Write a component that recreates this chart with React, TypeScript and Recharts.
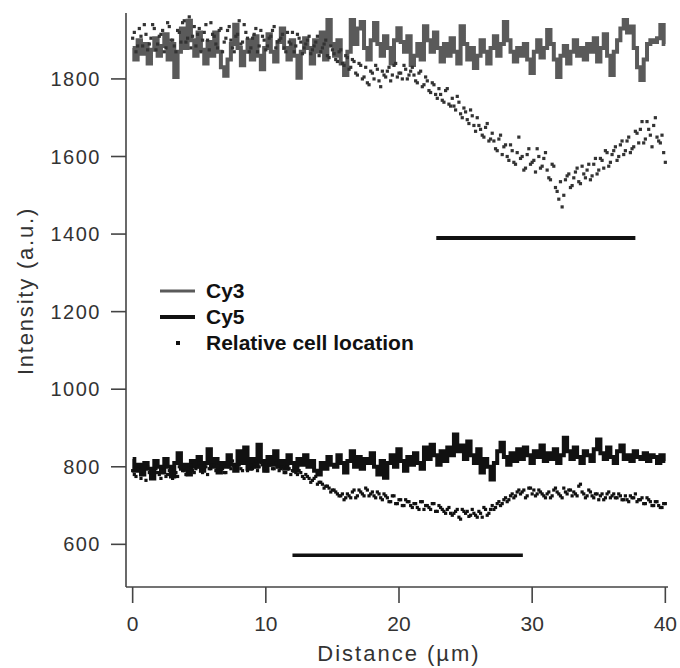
import React, { useLayoutEffect } from 'react';
import { ComposedChart, Line, Scatter, XAxis, YAxis, Legend } from 'recharts';

const FONT = "'Liberation Sans', Arial, Helvetica, sans-serif";
const STEP = 0.25; // sampling interval (µm)

const xTicks = [0, 10, 20, 30, 40];
const yTicks = [600, 800, 1000, 1200, 1400, 1600, 1800];

// Cy3 intensity profile (grey trace)
const cy3Trace = [
  1880, 1850, 1900, 1865, 1890,
  1840, 1875, 1905, 1860, 1885, 1915, 1850, 1890, 1805, 1870, 1930, 1880,
  1950, 1900, 1860, 1920, 1875, 1840, 1895, 1860, 1920, 1870, 1830, 1808,
  1850, 1890, 1940, 1880, 1835, 1870, 1900, 1850, 1910, 1860, 1825, 1880,
  1915, 1870, 1845, 1895, 1930, 1880, 1850, 1900, 1860, 1803, 1870, 1905,
  1880, 1840, 1900, 1870, 1920, 1850, 1952, 1890, 1860, 1900, 1840, 1810,
  1870, 1952, 1890, 1930, 1947, 1880, 1850, 1900, 1944, 1890, 1860, 1910,
  1880, 1840, 1900, 1931, 1895, 1870, 1910, 1836, 1860, 1890, 1850, 1936,
  1900, 1870, 1920, 1880, 1845, 1890, 1860, 1905, 1870, 1840, 1936, 1890,
  1850, 1880, 1828, 1860, 1900, 1870, 1840, 1880, 1910, 1860, 1890, 1947,
  1900, 1870, 1845, 1880, 1860, 1890, 1850, 1815, 1870, 1900, 1855, 1880,
  1926, 1890, 1850, 1805, 1860, 1885, 1840, 1870, 1900, 1860, 1880, 1850,
  1890, 1870, 1905, 1845, 1880, 1915, 1860, 1810, 1870, 1900, 1930, 1952,
  1920, 1935, 1880, 1830, 1797, 1850, 1890, 1900, 1895, 1905, 1939, 1890,
];

// Cy5 intensity profile (black trace)
const cy5Trace = [
  820, 790, 805, 780, 810,
  795, 770, 815, 800, 785, 820, 800, 775, 810, 835, 795, 805,
  780, 815, 800, 825, 790, 810, 845, 800, 820, 785, 810, 800,
  830, 805, 790, 840, 810, 850, 795, 820, 800, 857, 815, 790,
  825, 805, 840, 800, 815, 795, 830, 810, 790, 820, 805, 830,
  800, 815, 790, 780, 810, 795, 825, 805, 800, 830, 810, 785,
  815, 840, 800, 825, 795, 820, 810, 835, 800, 780, 815, 772,
  810, 830, 800, 845, 815, 790, 825, 805, 835, 810, 795, 850,
  820, 857, 830, 805, 840, 815, 850, 830, 883, 840, 855, 820,
  865, 830, 810, 845, 785, 820, 800, 767, 810, 840, 862, 825,
  805, 835, 815, 845, 820, 850, 830, 810, 840, 825, 855, 815,
  835, 820, 845, 810, 830, 875, 840, 820, 850, 825, 810, 840,
  830, 815, 845, 870, 835, 820, 850, 825, 810, 840, 855, 820,
  830, 815, 840, 825, 820, 835, 815, 830, 825, 810, 830, 815,
];

// Relative cell location, upper (Cy3 channel), samples at 0, 0.25, 0.5 ...
const cy3Cells = [
  1905, 1870, 1930, 1885, 1915,
  1890, 1940, 1875, 1910, 1925, 1880, 1935, 1900, 1870, 1920, 1945, 1895,
  1960, 1910, 1885, 1930, 1900, 1940, 1875, 1915, 1890, 1925, 1870, 1905,
  1935, 1880, 1910, 1950, 1895, 1920, 1870, 1905, 1930, 1885, 1910, 1875,
  1905, 1925, 1880, 1900, 1915, 1870, 1895, 1920, 1885, 1905, 1865, 1890,
  1910, 1875, 1895, 1860, 1880, 1900, 1855, 1875, 1850, 1870, 1840, 1860,
  1825, 1850, 1815, 1840, 1800, 1830, 1785, 1815, 1835, 1795, 1820, 1805,
  1830, 1810, 1840, 1815, 1800, 1825, 1810, 1830, 1795, 1815, 1780, 1805,
  1770, 1790, 1760, 1775, 1745, 1770, 1735, 1750, 1720, 1740, 1700, 1715,
  1685, 1705, 1665, 1680, 1655, 1675, 1640, 1660, 1620, 1645, 1605, 1630,
  1590, 1615, 1580, 1650, 1600, 1570, 1620, 1585, 1560, 1600, 1575, 1610,
  1545, 1580, 1520, 1490, 1470, 1540, 1555, 1525, 1560, 1535, 1575, 1545,
  1580, 1550, 1595, 1565, 1590, 1615, 1575, 1605, 1625, 1600, 1640, 1615,
  1650, 1620, 1665, 1635, 1690, 1645, 1670, 1625, 1700, 1640, 1655, 1585,
];

// Relative cell location, upper, interleaved samples at 0.125, 0.375 ...
const cy3CellsMid = [
  1920, 1885, 1910, 1940, 1875, 1905, 1930, 1890, 1915, 1870, 1945, 1900,
  1885, 1925, 1895, 1950, 1905, 1880, 1935, 1915, 1870, 1920, 1900, 1945,
  1910, 1880, 1930, 1895, 1925, 1900, 1870, 1915, 1890, 1940, 1905, 1880,
  1915, 1870, 1925, 1900, 1885, 1910, 1935, 1895, 1905, 1880, 1920, 1890,
  1870, 1915, 1895, 1880, 1900, 1865, 1885, 1910, 1870, 1890, 1860, 1885,
  1865, 1845, 1875, 1835, 1855, 1830, 1845, 1810, 1835, 1805, 1790, 1820,
  1800, 1825, 1780, 1810, 1820, 1795, 1835, 1805, 1815, 1835, 1800, 1820,
  1810, 1790, 1820, 1785, 1795, 1765, 1785, 1750, 1760, 1740, 1775, 1730,
  1730, 1755, 1710, 1725, 1695, 1720, 1680, 1700, 1670, 1650, 1685, 1645,
  1640, 1615, 1655, 1625, 1600, 1630, 1585, 1610, 1595, 1565, 1605, 1580,
  1590, 1620, 1570, 1595, 1565, 1540, 1575, 1510, 1535, 1500, 1550, 1520,
  1545, 1570, 1530, 1555, 1565, 1540, 1580, 1555, 1595, 1570, 1610, 1585,
  1615, 1590, 1630, 1605, 1640, 1610, 1625, 1660, 1670, 1635, 1690, 1655,
  1680, 1650, 1635, 1610,
];

// Relative cell location, lower (Cy5 channel), samples at 0, 0.25, 0.5 ...
const cy5Cells = [
  790, 775, 800, 780, 765,
  785, 770, 795, 780, 800, 775, 790, 770, 785, 800, 790, 780,
  805, 790, 795, 810, 785, 800, 795, 805, 790, 810, 795, 785,
  800, 815, 795, 805, 790, 810, 800, 795, 815, 800, 805, 790,
  805, 795, 810, 790, 800, 785, 795, 790, 785, 790, 775, 780,
  770, 765, 775, 760, 755, 750, 745, 740, 735, 725, 730, 720,
  725, 735, 720, 740, 730, 745, 725, 735, 720, 730, 715, 725,
  710, 725, 705, 715, 700, 715, 710, 695, 705, 690, 710, 700,
  695, 705, 685, 700, 690, 680, 695, 675, 685, 670, 690, 680,
  672, 690, 675, 685, 670, 690, 680, 700, 695, 710, 705, 720,
  715, 730, 725, 740, 735, 720, 745, 730, 725, 740, 730, 720,
  735, 725, 745, 730, 720, 735, 740, 725, 730, 750, 735, 720,
  740, 725, 730, 715, 730, 720, 735, 725, 720, 730, 715, 725,
  710, 720, 730, 715, 720, 705, 715, 700, 710, 700, 695, 705,
];

// Relative cell location, lower, interleaved samples at 0.125, 0.375 ...
const cy5CellsMid = [
  780, 795, 770, 785, 800, 775, 790, 785, 770, 790, 780, 795,
  785, 775, 800, 790, 795, 805, 785, 800, 790, 805, 780, 795,
  805, 790, 800, 785, 810, 795, 805, 800, 795, 810, 790, 805,
  800, 790, 810, 795, 790, 805, 795, 800, 795, 785, 800, 780,
  790, 780, 785, 770, 775, 760, 770, 755, 760, 745, 750, 735,
  740, 730, 725, 715, 730, 720, 740, 725, 735, 725, 740, 730,
  725, 735, 720, 730, 720, 710, 725, 705, 715, 700, 710, 700,
  705, 695, 710, 690, 700, 690, 705, 685, 695, 685, 690, 680,
  680, 690, 665, 685, 685, 675, 680, 670, 680, 695, 675, 690,
  690, 705, 700, 715, 710, 725, 720, 735, 730, 740, 725, 745,
  740, 730, 735, 725, 730, 720, 740, 735, 725, 745, 730, 740,
  735, 725, 755, 730, 725, 735, 720, 730, 725, 715, 730, 720,
  730, 720, 725, 715, 715, 725, 720, 710, 715, 705, 720, 710,
  700, 710, 695, 705,
];

// Horizontal marker bars (start, end in µm) and their levels
const cy3BarX = [22.8, 37.75];
const cy3BarLevel = 1390;
const cy5BarX = [12, 29.3];
const cy5BarLevel = 572;

const toPoints = (vals: number[], offset = 0) => vals.map((y, i) => ({ x: (i + offset) * STEP, y }));
const toBar = (xs: number[], level: number) => xs.map((x) => ({ x, y: level }));

const cy3Data = toPoints(cy3Trace);
const cy5Data = toPoints(cy5Trace);
const cy3CellData = [...toPoints(cy3Cells), ...toPoints(cy3CellsMid, 0.5)];
const cy5CellData = [...toPoints(cy5Cells), ...toPoints(cy5CellsMid, 0.5)];
const cy3Bar = toBar(cy3BarX, cy3BarLevel);
const cy5Bar = toBar(cy5BarX, cy5BarLevel);

const XTick = (props: any) => {
  const { x, y, payload } = props;
  return (
    <text x={x} y={y} dy={15} textAnchor="middle" fontSize={21} fill="#333" fontFamily={FONT}>
      {payload.value}
    </text>
  );
};

const YTick = (props: any) => {
  const { x, y, payload } = props;
  return (
    <text x={x} y={y} textAnchor="end" dominantBaseline="central" fontSize={20}
      letterSpacing={1.5} fill="#333" fontFamily={FONT}>
      {payload.value}
    </text>
  );
};

const Dot = (color: string) => (props: any) => {
  const { cx, cy } = props;
  if (cx == null || cy == null) return null;
  return <rect x={cx - 1.6} y={cy - 1.6} width={3.2} height={3.2} fill={color} />;
};

const legendItems = [
  { label: 'Cy3', kind: 'line', color: '#5a5a5a', width: 3 },
  { label: 'Cy5', kind: 'line', color: '#111', width: 4 },
  { label: 'Relative cell location', kind: 'dot', color: '#111', width: 4 },
];

const LegendContent = () => (
  <div style={{ fontFamily: FONT, fontWeight: 'bold', fontSize: 21, color: '#111' }}>
    {legendItems.map((it) => (
      <div key={it.label} style={{ display: 'flex', alignItems: 'center', height: 26 }}>
        <svg width={46} height={26}>
          {it.kind === 'line' ? (
            <line x1={0} x2={35} y1={13} y2={13} stroke={it.color} strokeWidth={it.width} />
          ) : (
            <rect x={16} y={11} width={4} height={4} fill={it.color} />
          )}
        </svg>
        <span style={{ lineHeight: '26px' }}>{it.label}</span>
      </div>
    ))}
  </div>
);

export default function App() {
  useLayoutEffect(() => {
    document.body.style.margin = '0';
  }, []);
  return (
    <div style={{ width: 680, height: 668, padding: '8px 0 0 8px', boxSizing: 'border-box' }}>
      <ComposedChart width={672} height={660} margin={{ top: 5, right: 12, left: 0, bottom: 0 }}>
        <XAxis
          type="number"
          dataKey="x"
          domain={[-0.5, 40.2]}
          ticks={xTicks}
          allowDataOverflow
          tickSize={16}
          tickMargin={13}
          height={81}
          stroke="#444"
          strokeWidth={1.6}
          tick={XTick}
          tickLine={{ stroke: '#444', strokeWidth: 1.6 }}
          label={{
            content: (p: any) => {
              const vb = p.viewBox || { x: 118, y: 579, width: 542 };
              return (
                <text x={vb.x + vb.width / 2 + 2} y={vb.y + 74} textAnchor="middle" fontSize={22}
                  letterSpacing={2} fill="#333" fontFamily={FONT}>
                  Distance (µm)
                </text>
              );
            },
          }}
        />
        <YAxis
          type="number"
          dataKey="y"
          domain={[490, 1970]}
          ticks={yTicks}
          allowDataOverflow
          width={118}
          tickSize={15}
          tickMargin={10}
          stroke="#444"
          strokeWidth={1.6}
          tick={YTick}
          tickLine={{ stroke: '#444', strokeWidth: 1.6 }}
          label={{
            content: (p: any) => {
              const vb = p.viewBox || { x: 0, y: 5, width: 118, height: 574 };
              const cx = vb.x + 17;
              const cy = vb.y + vb.height / 2 - 9;
              return (
                <text x={cx} y={cy} transform={`rotate(-90, ${cx}, ${cy})`} textAnchor="middle"
                  dominantBaseline="central" fontSize={22} letterSpacing={1.8} fill="#333" fontFamily={FONT}>
                  Intensity (a.u.)
                </text>
              );
            },
          }}
        />
        <Legend
          layout="vertical"
          align="center"
          verticalAlign="middle"
          wrapperStyle={{ left: 152, top: 270, width: 'auto' }}
          content={LegendContent}
        />
        <Line data={cy3Data} dataKey="y" type="step" stroke="#5a5a5a" strokeWidth={4}
          dot={false} activeDot={false} isAnimationActive={false} legendType="none" />
        <Line data={cy5Data} dataKey="y" type="step" stroke="#111" strokeWidth={4}
          dot={false} activeDot={false} isAnimationActive={false} legendType="none" />
        <Scatter data={cy3CellData} dataKey="y" shape={Dot('#333')} isAnimationActive={false} legendType="none" />
        <Scatter data={cy5CellData} dataKey="y" shape={Dot('#111')} isAnimationActive={false} legendType="none" />
        <Line data={cy3Bar} dataKey="y" stroke="#111" strokeWidth={4} dot={false} activeDot={false}
          isAnimationActive={false} legendType="none" />
        <Line data={cy5Bar} dataKey="y" stroke="#111" strokeWidth={3.5} dot={false} activeDot={false}
          isAnimationActive={false} legendType="none" />
      </ComposedChart>
    </div>
  );
}
